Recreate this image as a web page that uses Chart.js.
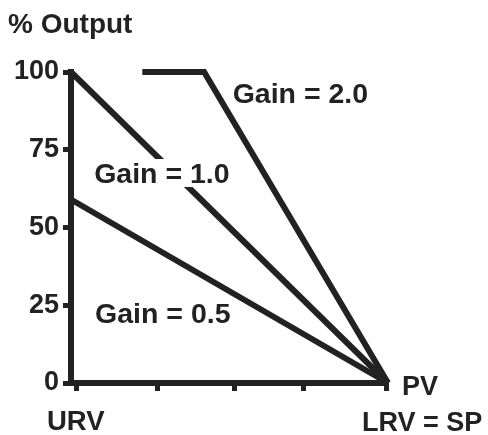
<!DOCTYPE html>
<html>
<head>
<meta charset="utf-8">
<script src="https://cdn.jsdelivr.net/npm/chart.js@4"></script>
<style>
  html, body { margin: 0; padding: 0; background: #fff; }
  #wrap { width: 488px; height: 435px; position: relative; }
</style>
</head>
<body>
<div id="wrap"><canvas id="chart"></canvas></div>
<script>
  // ── Data (x: % of span from URV to LRV, y: % output) ──────────────────────
  const gain05X = [0, 100];
  const gain05Y = [59, 0];
  const gain10X = [0, 100];
  const gain10Y = [100, 0];
  const gain20X = [22.5, 42, 100];
  const gain20Y = [100, 100, 0];

  const yTicks = [0, 25, 50, 75, 100];
  const xTickPos = [1.6, 27.2, 51.6, 73.4, 99.4];

  const INK = '#222';
  const FAMILY = "'Liberation Sans', Arial, sans-serif";
  const font = (px) => `bold ${px}px ${FAMILY}`;

  const toPoints = (xs, ys) => xs.map((x, i) => ({ x, y: ys[i] }));

  function lineSet(label, xs, ys) {
    return {
      label,
      data: toPoints(xs, ys),
      borderColor: INK,
      borderWidth: 6,
      pointRadius: 0,
      tension: 0,
      fill: false,
      clip: false,
      borderCapStyle: 'butt',
      borderJoinStyle: 'miter',
    };
  }

  // ── Text overlay: titles, line labels, axis end labels ────────────────────
  const textPlugin = {
    id: 'texts',
    afterDatasetsDraw(chart) {
      const { ctx, scales: { x, y } } = chart;
      ctx.save();
      ctx.fillStyle = INK;
      ctx.textBaseline = 'alphabetic';
      ctx.textAlign = 'left';

      const put = (txt, px, py, size, knockout) => {
        ctx.font = font(size);
        if (knockout) {
          const w = ctx.measureText(txt).width;
          ctx.fillStyle = '#fff';
          ctx.fillRect(px - 3, py - 24, w + 6, 28);
          ctx.fillStyle = INK;
        }
        ctx.fillText(txt, px, py);
      };

      put('% Output', 8, 33, 28);
      put('Gain = 2.0', x.getPixelForValue(51), y.getPixelForValue(90), 28.5);
      put('Gain = 1.0', x.getPixelForValue(7.3), y.getPixelForValue(64.3), 28.5, true);
      put('Gain = 0.5', x.getPixelForValue(7.6), y.getPixelForValue(19.3), 28.5);
      put('PV', x.right + 14, y.bottom + 12, 27);
      put('URV', 47, 430, 27.5);
      put('LRV = SP', 362, 431, 27);
      ctx.restore();
    }
  };

  new Chart(document.getElementById('chart'), {
    type: 'scatter',
    data: {
      datasets: [
        lineSet('Gain = 0.5', gain05X, gain05Y),
        lineSet('Gain = 1.0', gain10X, gain10Y),
        lineSet('Gain = 2.0', gain20X, gain20Y),
      ]
    },
    options: {
      responsive: true,
      maintainAspectRatio: false,
      animation: false,
      showLine: true,
      layout: { padding: { left: 0, right: 100, top: 72, bottom: 0 } },
      plugins: { legend: { display: false }, tooltip: { enabled: false } },
      scales: {
        x: {
          type: 'linear',
          min: 0,
          max: 100,
          afterFit(scale) { scale.height = 52; },
          afterBuildTicks(scale) { scale.ticks = xTickPos.map(v => ({ value: v })); },
          ticks: { display: false },
          grid: {
            drawOnChartArea: false,
            drawTicks: true,
            tickLength: 8,
            tickWidth: 5,
            color: INK,
          },
          border: { display: true, width: 6, color: INK },
        },
        y: {
          type: 'linear',
          min: 0,
          max: 100,
          afterFit(scale) { scale.width = 71; },
          afterBuildTicks(scale) { scale.ticks = yTicks.map(v => ({ value: v })); },
          ticks: {
            color: INK,
            font: { family: FAMILY, size: 27, weight: 'bold' },
            padding: 4,
          },
          grid: {
            drawOnChartArea: false,
            drawTicks: true,
            tickLength: 8,
            tickWidth: 5,
            color: INK,
          },
          border: { display: true, width: 6, color: INK },
        }
      }
    },
    plugins: [textPlugin]
  });
</script>
</body>
</html>
